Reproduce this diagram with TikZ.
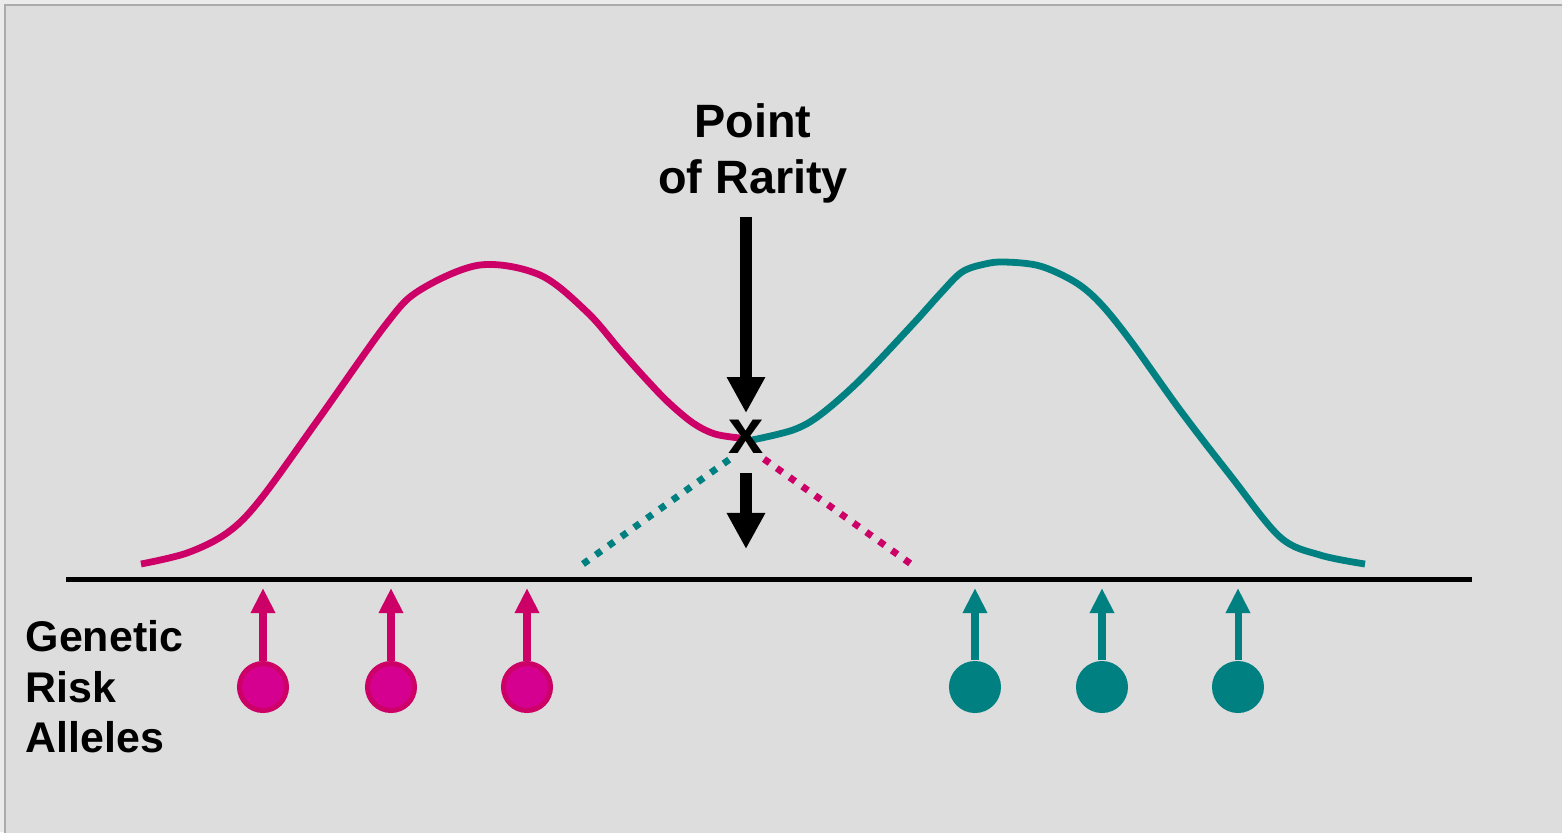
\documentclass[tikz,border=0pt]{standalone}
\usepackage{fontspec}
\setmainfont{Liberation Sans}
\usepackage{xcolor}
\definecolor{rosered}{HTML}{CC0066}
\definecolor{rosefill}{HTML}{D5008F}
\definecolor{tealgreen}{HTML}{008080}
\definecolor{panelgray}{HTML}{DDDDDD}
\definecolor{edgegray}{HTML}{ABABAB}
\definecolor{pagegray}{HTML}{EBEBEB}
\usetikzlibrary{arrows.meta}

\begin{document}
\begin{tikzpicture}[x=0.01cm, y=-0.01cm,
  curve/.style={line width=0.068cm, line join=round},
  dotline/.style={line width=0.068cm, dash pattern=on 0.068cm off 0.089cm},
  bigarrow/.style={line width=0.12cm, -{Triangle[width=0.36cm,length=0.36cm]}},
  allelearrow/.style={line width=0.07cm, -{Triangle[width=0.23cm,length=0.25cm]}},
  roseallele/.style={circle, inner sep=0pt, fill=rosefill, draw=rosered, line width=0.05cm, minimum size=0.47cm},
  tealallele/.style={circle, inner sep=0pt, fill=tealgreen, minimum size=0.52cm},
  bigtext/.style={font=\fontsize{13.3}{15.9}\selectfont\bfseries, inner sep=0pt}]
  \useasboundingbox (0,0) rectangle (1562,832);
  \fill[pagegray] (0,0) rectangle (1562,832);
  \filldraw[fill=panelgray, draw=edgegray, line width=0.02cm] (5,5) rectangle (1580,850);

  \draw[curve, rosered] plot[smooth, tension=0.55] coordinates {(141,564) (187,553) (227,533) (260,500) (320,417) (387,323) (420,290) (480,265) (540,275) (587,312) (620,350) (645,378) (668,402) (693,423) (715,434) (740,438)};
  \draw[curve, tealgreen] plot[smooth, tension=0.55] coordinates {(752,440) (793,430) (820,415) (860,380) (913,324) (940,294) (962,272) (985,264) (1005,262) (1040,266) (1075,282) (1100,303) (1130,340) (1180,410) (1230,475) (1280,537) (1320,555) (1365,564)};

  \coordinate (tealA) at (583,564);
  \coordinate (tealB) at (730,459);
  \coordinate (roseA) at (764,459);
  \coordinate (roseB) at (911,564);
  \draw[dotline, tealgreen] (tealA) -- (tealB);
  \draw[dotline, rosered] (roseA) -- (roseB);

  \node[font=\fontsize{18}{18}\selectfont\bfseries, inner sep=0pt] (cross) at (746,437) {x};
  \node[bigtext, align=center, anchor=north] (rarity) at (753,103) {Point\\of Rarity};
  \draw[bigarrow, shorten <=0.13cm, shorten >=0.065cm] (cross.north |- rarity.south) -- (cross.north);
  \coordinate (droptip) at (746,549);
  \draw[bigarrow, shorten <=0.19cm] (cross.south) -- (droptip);

  \coordinate (axisL) at (66,579);
  \coordinate (axisR) at (1472,579);
  \draw[line width=0.05cm] (axisL) -- (axisR);

  \node[bigtext, font=\fontsize{12.2}{14.3}\selectfont\bfseries, align=left, anchor=north west] (risk) at (25,620) {Genetic\\Risk\\Alleles};

  \node[roseallele] (m1) at (263,687) {};
  \node[roseallele] (m2) at (391,687) {};
  \node[roseallele] (m3) at (527,687) {};
  \node[tealallele] (t1) at (975,687) {};
  \node[tealallele] (t2) at (1102,687) {};
  \node[tealallele] (t3) at (1238,687) {};
  \coordinate (m1tip) at (263,588);
  \coordinate (m2tip) at (391,588);
  \coordinate (m3tip) at (527,588);
  \coordinate (t1tip) at (975,588);
  \coordinate (t2tip) at (1102,588);
  \coordinate (t3tip) at (1238,588);
  \draw[allelearrow, rosered] (m1) -- (m1tip);
  \draw[allelearrow, rosered] (m2) -- (m2tip);
  \draw[allelearrow, rosered] (m3) -- (m3tip);
  \draw[allelearrow, tealgreen] (t1) -- (t1tip);
  \draw[allelearrow, tealgreen] (t2) -- (t2tip);
  \draw[allelearrow, tealgreen] (t3) -- (t3tip);
\end{tikzpicture}
\end{document}
